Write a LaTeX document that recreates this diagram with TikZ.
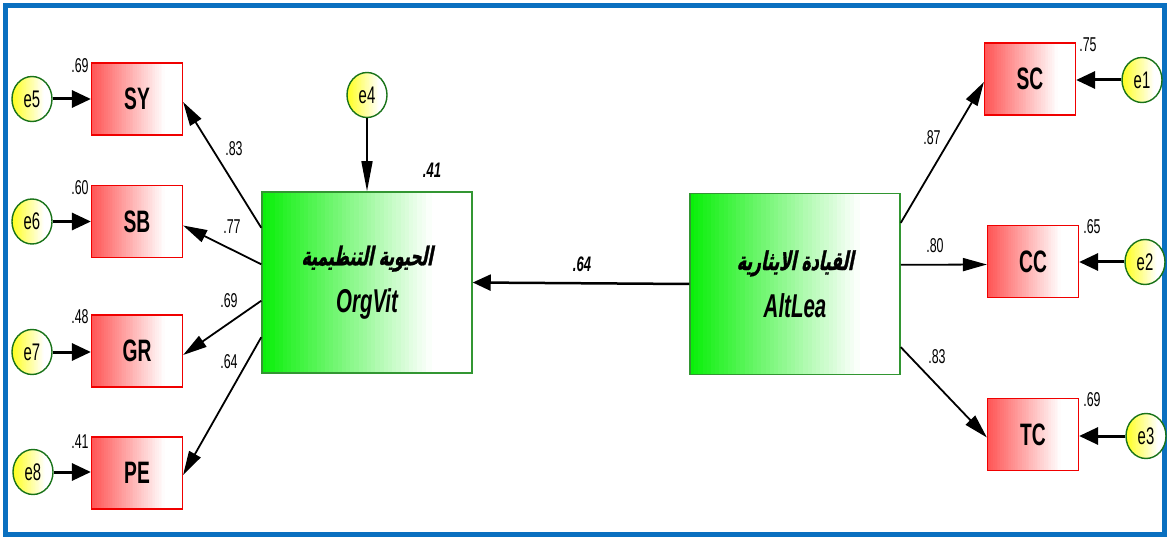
\documentclass[tikz,border=0pt]{standalone}
\usepackage{fontspec}
\usetikzlibrary{arrows.meta,shapes.geometric,calc}
\TeXXeTstate=1
\newfontfamily\labfont[FakeStretch=0.62]{Liberation Sans}
\newfontfamily\arabicfont[Script=Arabic,FakeSlant=0.2,FakeStretch=0.6,FakeBold=1.2]{DejaVu Sans}
\definecolor{bordblue}{RGB}{10,112,192}
\definecolor{redfill}{RGB}{255,85,85}
\definecolor{redline}{RGB}{240,0,0}
\definecolor{grnfill}{RGB}{10,240,10}
\definecolor{grnline}{RGB}{50,150,50}
\definecolor{yelfill}{RGB}{255,255,30}
\definecolor{yelline}{RGB}{25,115,25}
\begin{document}
\begin{tikzpicture}[x=1pt,y=-1pt,
  grad/.style={path picture={
    \foreach \i in {0,...,39}{
      \pgfmathsetmacro\pa{\i/40*0.8}
      \pgfmathsetmacro\pb{(\i+1.4)/40*0.8}
      \pgfmathtruncatemacro\pc{100-\i*2.5}
      \fill[#1!\pc!white] ($(path picture bounding box.south west)!\pa!(path picture bounding box.south east)$) rectangle ($(path picture bounding box.north west)!\pb!(path picture bounding box.north east)$);
    }}},
  obs/.style={rectangle, draw=redline, line width=1.2pt, fill=white, grad=redfill, minimum width=91pt, minimum height=72pt, inner sep=0pt, font=\labfont\bfseries\fontsize{31}{31}\selectfont},
  err/.style={ellipse, draw=yelline, line width=1.4pt, fill=white, grad=yelfill, minimum width=40pt, minimum height=45pt, inner sep=0pt, font=\labfont\fontsize{24}{24}\selectfont},
  lat/.style={rectangle, draw=grnline, line width=1.5pt, fill=white, grad=grnfill, minimum width=210pt, minimum height=181pt, align=center, inner sep=0pt},
  num/.style={font=\labfont\fontsize{20}{20}\selectfont, inner sep=0pt},
  bnum/.style={font=\labfont\bfseries\itshape\fontsize{21}{21}\selectfont, inner sep=0pt},
  load/.style={line width=1.8pt, -{Triangle[length=24pt,width=13pt]}},
  dist/.style={line width=1.6pt, -{Triangle[length=30pt,width=11pt]}},
  errarr/.style={line width=3pt, -{Triangle[length=19pt,width=17pt]}},
  struct/.style={line width=2.5pt, -{Triangle[length=18pt,width=16pt]}}
]
\useasboundingbox (0,0) rectangle (1167,537);
\fill[white] (0,0) rectangle (1167,537);
\draw[bordblue, line width=5pt] (5.5,5.5) rectangle (1164.5,534.5);

% latent variables
\node[lat] (OV) at (367,282.5) {{\arabicfont\bfseries\fontsize{26}{26}\selectfont\beginR الحيوية التنظيمية\endR}\\[16pt]{\labfont\bfseries\itshape\fontsize{33}{33}\selectfont OrgVit}};
\node[lat] (AL) at (795,284) {{\arabicfont\bfseries\fontsize{26}{26}\selectfont\beginR القيادة الايثارية\endR}\\[16pt]{\labfont\bfseries\itshape\fontsize{33}{33}\selectfont AltLea}};

% observed
\node[obs] (SY) at (137,99) {SY};
\node[obs] (SB) at (137,221.5) {SB};
\node[obs] (GR) at (137,351) {GR};
\node[obs] (PE) at (137,473) {PE};
\node[obs] (SC) at (1030,79) {SC};
\node[obs] (CC) at (1033,261.5) {CC};
\node[obs] (TC) at (1033,434.5) {TC};

% errors
\node[err] (e5) at (32,99) {e5};
\node[err] (e6) at (32,221.5) {e6};
\node[err] (e7) at (32,352) {e7};
\node[err] (e8) at (33,472) {e8};
\node[err] (e4) at (367,95) {e4};
\node[err] (e1) at (1142,80) {e1};
\node[err] (e2) at (1145,262) {e2};
\node[err] (e3) at (1146,436) {e3};

% error arrows
\draw[errarr] (e5.east) -- (SY.west |- e5.east);
\draw[errarr] (e6.east) -- (SB.west |- e6.east);
\draw[errarr] (e7.east) -- (GR.west |- e7.east);
\draw[errarr] (e8.east) -- (PE.west |- e8.east);
\draw[errarr] (e1.west) -- (SC.east |- e1.west);
\draw[errarr] (e2.west) -- (CC.east |- e2.west);
\draw[errarr] (e3.west) -- (TC.east |- e3.west);
\draw[dist] (e4.south) -- (OV.north);

% loadings
\draw[load] ($(OV.north west)!0.2!(OV.south west)$) -- ($(SY.east)+(0,3)$);
\draw[load] ($(OV.north west)!0.4!(OV.south west)$) -- ($(SB.east)+(0,4)$);
\draw[load] ($(OV.north west)!0.6!(OV.south west)$) -- ($(GR.east)+(0,4)$);
\draw[load] ($(OV.north west)!0.8!(OV.south west)$) -- ($(PE.east)+(0,2)$);
\draw[load] ($(AL.north east)!0.165!(AL.south east)$) -- ($(SC.west)+(0,3)$);
\draw[load] ($(AL.north east)!0.395!(AL.south east)$) -- ($(CC.west)+(0,3)$);
\draw[load] ($(AL.north east)!0.846!(AL.south east)$) -- ($(TC.west)+(0,3)$);
\draw[struct] (AL.west) -- (OV.east);

% labels
\node[num] (lSY) at (234,149) {.83};
\node[num] (lSB) at (232,227) {.77};
\node[num] (lGR) at (229,301) {.69};
\node[num] (lPE) at (229,362) {.64};
\node[num] (lSC) at (932,138) {.87};
\node[num] (lCC) at (935,246) {.80};
\node[num] (lTC) at (937,357) {.83};
\node[num] (vSY) at (80,66) {.69};
\node[num] (vSB) at (80,188) {.60};
\node[num] (vGR) at (80,317) {.48};
\node[num] (vPE) at (80,442) {.41};
\node[num] (vSC) at (1088,45) {.75};
\node[num] (vCC) at (1092,227) {.65};
\node[num] (vTC) at (1092,400) {.69};
\node[bnum] (vOV) at (432,170) {.41};
\node[bnum] (lAL) at (582,264) {.64};
\end{tikzpicture}
\end{document}
